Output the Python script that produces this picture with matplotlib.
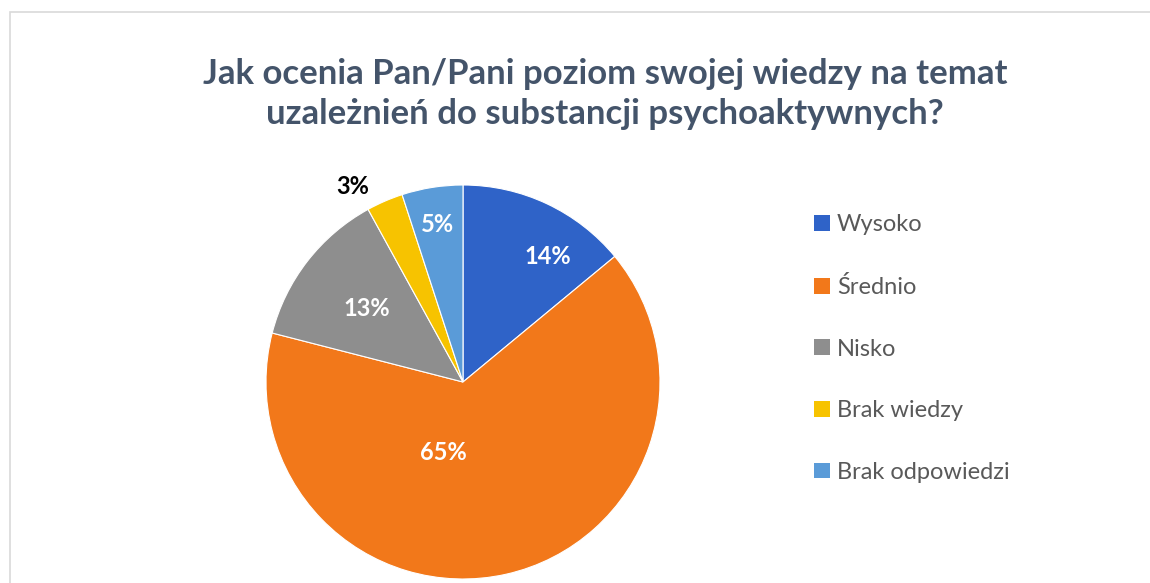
import matplotlib.pyplot as plt
from matplotlib.patches import Patch, Rectangle

categories = ["Wysoko", "Średnio", "Nisko", "Brak wiedzy", "Brak odpowiedzi"]
values = [14, 65, 13, 3, 5]
labels = ["14%", "65%", "13%", "3%", "5%"]
colors = ["#2F63C8", "#F2781A", "#8E8E8E", "#F7C300", "#5A9BD8"]

title = "Jak ocenia Pan/Pani poziom swojej wiedzy na temat\nuzależnień do substancji psychoaktywnych?"

plt.rcParams['font.family'] = ['Lato', 'DejaVu Sans']

W, H = 1150, 583
fig = plt.figure(figsize=(W / 100, H / 100), dpi=100)
ax = fig.add_axes([0, 0, 1, 1])

# chart frame (pixel coords, y up)
fig.patches.append(Rectangle((10 / W, -0.1), 1.2, (H - 12) / H + 0.1, transform=fig.transFigure,
                             fill=False, edgecolor="#D9D9D9", linewidth=1.2))

cx, cy, r = 463, H - 382, 197
wedges, _ = ax.pie(values, colors=colors, startangle=90, counterclock=False,
                   center=(cx, cy), radius=r, frame=True,
                   wedgeprops=dict(linewidth=0.8, edgecolor="white"))

# label offsets from pie centre (pixels)
label_off = [(85, 126), (-20, -70), (-96, 74), (-110, 196), (-25, 158)]
label_col = ["white", "white", "white", "black", "white"]
for lab, (dx, dy), c in zip(labels, label_off, label_col):
    ax.text(cx + dx, cy + dy, lab, ha="center", va="center", color=c,
            fontsize=17, fontweight="bold")

ax.set_xlim(0, W)
ax.set_ylim(0, H)
ax.set_aspect("equal")
ax.axis("off")

ax.text(605, H - 94, title, ha="center", va="center", fontsize=25, fontweight="bold",
        color="#44546A", linespacing=1.3)

handles = [Patch(facecolor=c, edgecolor="none") for c in colors]
leg = ax.legend(handles, categories, loc="upper left", bbox_to_anchor=(805 / W, 1 - 205 / H),
                bbox_transform=fig.transFigure, frameon=False, fontsize=17,
                handlelength=0.65, handleheight=0.65, handletextpad=0.3,
                labelspacing=1.72, borderaxespad=0)
for t in leg.get_texts():
    t.set_color("#595959")

fig.savefig("out.png", dpi=100)
